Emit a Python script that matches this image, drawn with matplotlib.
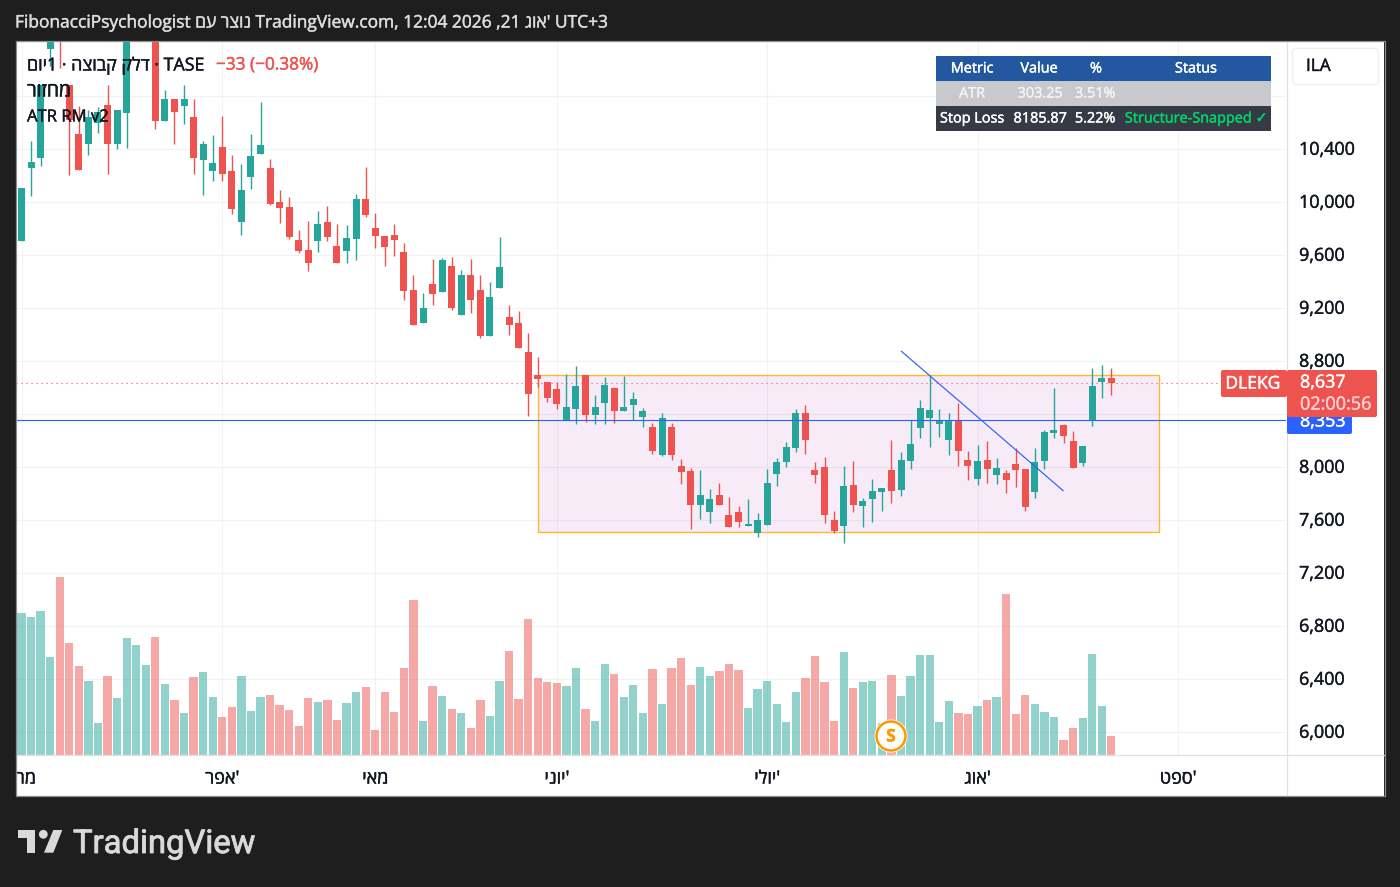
import numpy as np
import matplotlib
matplotlib.use("Agg")
import matplotlib.pyplot as plt
import matplotlib.patheffects as pe
from matplotlib.patches import Rectangle, FancyBboxPatch, Polygon, Circle
from matplotlib.text import Text
from matplotlib.transforms import ScaledTranslation

FONT = ['Open Sans', 'Liberation Sans', 'DejaVu Sans']
plt.rcParams['font.family'] = FONT

open_ = [9708, 10259, 10335, 11157, 11420, 10886, 10516, 10440, 10599, 10735,
         10440, 10674, 11350, 11600, 11500, 10614, 10780, 10727, 10644, 10319,
         10236, 10418, 10236, 9852, 10191, 10365, 10259, 10002, 9965, 9716,
         9640, 9708, 9852, 9670, 9633, 9723, 10025, 9806, 9746, 9753,
         9625, 9338, 9089, 9384, 9323, 9519, 9150, 9452, 9338, 8991,
         9353, 9135, 9089, 8870, 8697, 8644, 8591, 8357, 8440, 8697,
         8395, 8485, 8599, 8425, 8470, 8380, 8304, 8093, 8304, 8010,
         7972, 7716, 7663, 7791, 7640, 7663, 7557, 7504, 7565, 7950,
         8040, 8146, 8410, 7980, 8002, 7602, 7557, 7867, 7708, 7761,
         7814, 7980, 7829, 8048, 8297, 8372, 8327, 8206, 8357, 8055,
         7912, 8055, 7942, 7957, 8025, 7987, 7814, 8048, 8259, 8319,
         8199, 8033, 8357, 8644, 8674]
close = [10108, 10304, 10886, 11280, 11250, 10621, 10244, 10644, 10682, 10440,
         10697, 11330, 11600, 11760, 10614, 10780, 10682, 10780, 10335, 10440,
         10297, 10214, 9950, 10093, 10350, 10433, 9987, 9957, 9738, 9633,
         9542, 9836, 9738, 9542, 9731, 10025, 9904, 9746, 9663, 9716,
         9331, 9074, 9202, 9308, 9565, 9202, 9452, 9263, 8991, 9285,
         9512, 9074, 8901, 8554, 8667, 8523, 8478, 8455, 8614, 8395,
         8455, 8621, 8425, 8455, 8516, 8425, 8123, 8372, 8093, 7965,
         7716, 7791, 7761, 7716, 7550, 7587, 7572, 7602, 7882, 8040,
         8153, 8410, 8206, 7942, 7640, 7519, 7859, 7716, 7746, 7821,
         7844, 7821, 8055, 8176, 8448, 8433, 8357, 8357, 8123, 8010,
         8048, 7987, 7995, 7904, 7980, 7701, 8040, 8267, 8282, 8236,
         7995, 8161, 8614, 8674, 8637]
high = [10108, 10463, 10886, 11330, 11480, 10886, 10727, 10697, 10719, 10886,
        10697, 11400, 11680, 11820, 11560, 10848, 10780, 10886, 10780, 10463,
        10508, 10652, 10357, 10289, 10516, 10757, 10327, 10093, 10040, 9791,
        9859, 9935, 9972, 9836, 9829, 10063, 10267, 9919, 9746, 9836,
        9693, 9452, 9316, 9572, 9580, 9587, 9489, 9572, 9452, 9399,
        9738, 9225, 9180, 9014, 8833, 8644, 8644, 8704, 8765, 8697,
        8546, 8682, 8606, 8689, 8569, 8448, 8335, 8410, 8335, 8063,
        7995, 7980, 7836, 7882, 7776, 7708, 7761, 7655, 7987, 8070,
        8191, 8440, 8470, 8040, 8078, 7670, 8010, 8048, 7768, 7912,
        7844, 8206, 8116, 8357, 8508, 8697, 8440, 8410, 8485, 8123,
        8169, 8199, 8070, 7980, 8146, 7987, 8146, 8282, 8599, 8327,
        8274, 8161, 8750, 8772, 8750]
low = [9708, 10048, 10274, 11029, 11014, 10206, 10244, 10357, 10523, 10214,
       10402, 10410, 11290, 11520, 10553, 10614, 10440, 10591, 10214, 10055,
       10161, 10161, 9912, 9753, 10101, 10365, 9980, 9844, 9723, 9618,
       9482, 9625, 9708, 9542, 9542, 9565, 9889, 9655, 9519, 9595,
       9263, 9074, 9089, 9225, 9323, 9187, 9150, 9165, 8976, 8991,
       9353, 8999, 8901, 8387, 8606, 8493, 8440, 8357, 8327, 8342,
       8327, 8327, 8335, 8425, 8357, 8304, 8101, 8086, 8055, 7874,
       7535, 7610, 7580, 7716, 7550, 7550, 7557, 7474, 7565, 7859,
       8002, 8116, 8101, 7882, 7580, 7504, 7429, 7663, 7550, 7587,
       7670, 7731, 7784, 7987, 8221, 8153, 8229, 8093, 8010, 7904,
       7867, 7882, 7874, 7806, 7852, 7670, 7768, 7987, 8221, 8184,
       7995, 8010, 8312, 8523, 8546]
volume = [426, 414, 432, 294, 534, 336, 267, 222, 96, 237, 171, 351, 330, 270, 354,
          213, 165, 126, 234, 249, 174, 114, 144, 237, 132, 174, 180, 150, 135, 87,
          171, 159, 165, 105, 156, 189, 204, 75, 189, 129, 261, 465, 102, 207, 177,
          138, 126, 81, 165, 117, 222, 312, 168, 408, 231, 219, 216, 207, 261,
          138, 102, 273, 243, 174, 210, 126, 258, 153, 261, 291, 210, 264, 237, 252,
          273, 255, 141, 198, 222, 153, 99, 189, 231, 297, 219, 102, 309, 201, 219,
          222, 95, 240, 177, 237, 300, 300, 99, 162, 126, 123, 147, 165, 174, 483,
          123, 180, 153, 129, 114, 45, 81, 111, 303, 147, 57]

price_ticks = [6000, 6400, 6800, 7200, 7600, 8000, 8400, 8800, 9200, 9600, 10000, 10400, 10800]
price_labels = ['6,000', '6,400', '6,800', '7,200', '7,600', '8,000', '8,400', '8,800',
                '9,200', '9,600', '10,000', '10,400', '']
month_ticks = [0, 21, 37, 56, 78, 100, 121]
month_names = ["מרץ", "אפר'", "מאי", "יוני'", "יולי'", "אוג'", "ספט'"]

last_price = 8637
stop_price = 8353
box_range = [54, 119, 7509, 8693]
trend_x = [92, 109]
trend_y = [8878, 7821]


def heb(s):
    """Hebrew word in visual order; a trailing geresh stays on the right, as in the reference."""
    if s.endswith("'"):
        return s[:-1][::-1] + "'"
    return s[::-1]


UP, DOWN = '#26a69a', '#ef5350'
DARK = '#1e1e1e'
INK = '#131722'
W, H = 1400, 887
fig = plt.figure(figsize=(14, 8.8701), dpi=100, facecolor=DARK)


def axbox(x0, y0, x1, y1):
    return [x0 / W, 1 - y1 / H, (x1 - x0) / W, (y1 - y0) / H]


fig.add_artist(Rectangle((16 / W, 1 - 796 / H), 1368 / W, 754 / H, transform=fig.transFigure,
                         facecolor='white', edgecolor='none', zorder=-1))

ax = fig.add_axes(axbox(16, 42, 1286, 755))
ax.patch.set_visible(False)
PX = 1 / 9.56
ax.set_xlim(-5.5 * PX, (1286 - 21.5) * PX)
ax.set_ylim(5828.7, 11209.8)

n = np.arange(len(open_))
o, c, hi, lo = map(np.array, (open_, close, high, low))
colors = [UP if a >= b else DOWN for a, b in zip(c, o)]

vax = ax.twinx()
vax.set_ylim(0, 713 * 3)
vax.axis('off')
vax.bar(n, volume, width=0.87, color=colors, alpha=0.5, lw=0)

ax.set_axisbelow(True)
ax.grid(True, color='#f2f2f4', lw=0.75)
for s in ax.spines.values():
    s.set_visible(False)
ax.yaxis.tick_right()
ax.set_yticks(price_ticks, price_labels)
ax.set_xticks(month_ticks, [heb(m) for m in month_names])
ax.tick_params(axis='y', length=0, pad=9.4, labelsize=12.9, labelcolor=INK)
ax.tick_params(axis='x', length=0, pad=10.5, labelsize=13, labelcolor=INK)
lift = ScaledTranslation(0, 1.5 / 100, fig.dpi_scale_trans)
for lab in ax.get_yticklabels():
    lab.set_transform(lab.get_transform() + lift)

ax.add_patch(Rectangle((box_range[0], box_range[2]), box_range[1] - box_range[0],
                       box_range[3] - box_range[2], facecolor='#9c27b0', alpha=0.09,
                       edgecolor='none', zorder=1.5))
ax.add_patch(Rectangle((box_range[0], box_range[2]), box_range[1] - box_range[0],
                       box_range[3] - box_range[2], facecolor='none',
                       edgecolor='#fbb92d', lw=1.0, zorder=1.6))
ax.axhline(last_price, color=DOWN, lw=0.8, ls=(0, (1, 3.5)), zorder=1.7)
ax.vlines(n, lo, hi, colors=colors, lw=1.0, zorder=3)
ax.bar(n, np.abs(c - o), bottom=np.minimum(o, c), width=0.73, color=colors, lw=0, zorder=3.1)
ax.axhline(stop_price + 2, color='#2962ff', lw=0.8, zorder=3.5)
ax.plot(trend_x, trend_y, color='#2962ff', lw=0.85, zorder=3.6, solid_capstyle='butt')

# overlay in pixel coordinates for the TradingView furniture
ov = fig.add_axes([0, 0, 1, 1], zorder=5)
ov.set_xlim(0, W)
ov.set_ylim(H, 0)
ov.axis('off')
ov.patch.set_visible(False)

ov.add_patch(Rectangle((0, 42), 15.5, 760, facecolor=DARK, edgecolor='none', zorder=1))
ov.add_patch(Rectangle((15.5, 41.5), 1369, 755, facecolor='none', edgecolor='#8c8c8c', lw=0.9, zorder=2))
ov.plot([1286.5, 1286.5], [42, 796], color='#e0e0e0', lw=0.9, zorder=1.5)
ov.plot([16, 1384], [755.5, 755.5], color='#e0e0e0', lw=0.9, zorder=1.5)

head = "FibonacciPsychologist " + heb("נוצר עם") + " TradingView.com, 12:04 2026 ,21 " + heb("אוג'") + " UTC+3"
ov.text(15, 23.5, head, color='#dcdcdc', fontsize=12.5, va='center', ha='left')

ov.text(27, 65.5, heb("יום") + "1 · " + heb("דלק קבוצה") + " · TASE", color=INK, fontsize=12.85, va='center')
ov.text(216, 65.5, "−33 (−0.38%)", color=DOWN, fontsize=12.4, va='center')
ov.text(27, 91.5, heb("מחזור"), color=INK, fontsize=14, va='center')
ov.text(27, 117.5, "ATR RM v2", color=INK, fontsize=12, va='center')

# table
rows = [(56, '#2358a1'), (81, '#c8c9cc'), (106, '#363a45')]
for y0, col in rows:
    ov.add_patch(Rectangle((936, y0), 335, 25, facecolor=col, edgecolor='none', zorder=3))
tstyle = dict(fontsize=10.4, ha='center', va='center', zorder=4)
for x, t in zip((972, 1039, 1096, 1196), ("Metric", "Value", "%", "Status")):
    ov.text(x, 69, t, color='white', **tstyle)
for x, t in zip((972, 1040, 1095), ("ATR", "303.25", "3.51%")):
    ov.text(x, 94, t, color='#f3f3f3', **tstyle)
for x, t in zip((972, 1040, 1095), ("Stop Loss", "8185.87", "5.22%")):
    ov.text(x, 119, t, color='white', **tstyle)
ov.text(1196, 119, "Structure-Snapped ✓", color='#00d26a', **tstyle)

# ILA box
ov.add_patch(FancyBboxPatch((1292.5, 48.5), 86, 36, boxstyle="round,pad=0,rounding_size=4",
                            facecolor='white', edgecolor='#eeeeee', lw=0.9, zorder=3))
ov.text(1306, 67, "ILA", color=INK, fontsize=12.4, va='center', zorder=4)

# price labels
ov.add_patch(FancyBboxPatch((1287, 412), 65, 22, boxstyle="round,pad=0,rounding_size=2",
                            facecolor='#2962ff', edgecolor='none', zorder=3))
ov.text(1300, 421.5, "8,353", color='white', fontsize=12.9, va='center', zorder=3.1)
ov.add_patch(FancyBboxPatch((1221, 370), 66, 27, boxstyle="round,pad=0,rounding_size=2",
                            facecolor=DOWN, edgecolor='none', zorder=4))
ov.add_patch(FancyBboxPatch((1287, 370), 90, 47, boxstyle="round,pad=0,rounding_size=2",
                            facecolor=DOWN, edgecolor='none', zorder=4))
ov.text(1253, 384.5, "DLEKG", color='white', fontsize=12.6, ha='center', va='center', zorder=5)
ov.text(1300, 382.5, "8,637", color='white', fontsize=12.9, va='center', zorder=5)
ov.text(1300, 404.5, "02:00:56", color='#fcd0cf', fontsize=13, va='center', zorder=5)

# S marker
ov.add_patch(Circle((891, 736), 16.5, facecolor='white', edgecolor='none', zorder=3))
ov.add_patch(Circle((891, 736), 14.5, facecolor='white', edgecolor='#ff9800', lw=1.8, zorder=3.1))
ov.text(891, 736.5, "S", color='#ff9800', fontsize=12.5, fontweight='bold', ha='center', va='center', zorder=3.2)

# logo
LOGO = '#d9d9d9'
ov.add_patch(Polygon([(18, 830), (35, 830), (35, 852.7), (26.7, 852.7), (26.7, 838.3), (18, 838.3)],
                     closed=True, facecolor=LOGO, edgecolor='none'))
ov.add_patch(Circle((43.3, 834.3), 4.4, facecolor=LOGO, edgecolor='none'))
ov.add_patch(Polygon([(62.3, 830), (53.3, 852.7), (44, 852.7), (53.3, 830)],
                     closed=True, facecolor=LOGO, edgecolor='none'))

for t in fig.findobj(Text):
    t.set_path_effects([pe.Stroke(linewidth=0.3), pe.Normal()])

logo = ov.text(73, 844, "TradingView", color=LOGO, fontsize=23.6,
               family=['Roboto', 'DejaVu Sans'], va='center', ha='left')
logo.set_path_effects([pe.withStroke(linewidth=0.6, foreground=LOGO)])

fig.savefig('out.png', dpi=100, facecolor=DARK)
